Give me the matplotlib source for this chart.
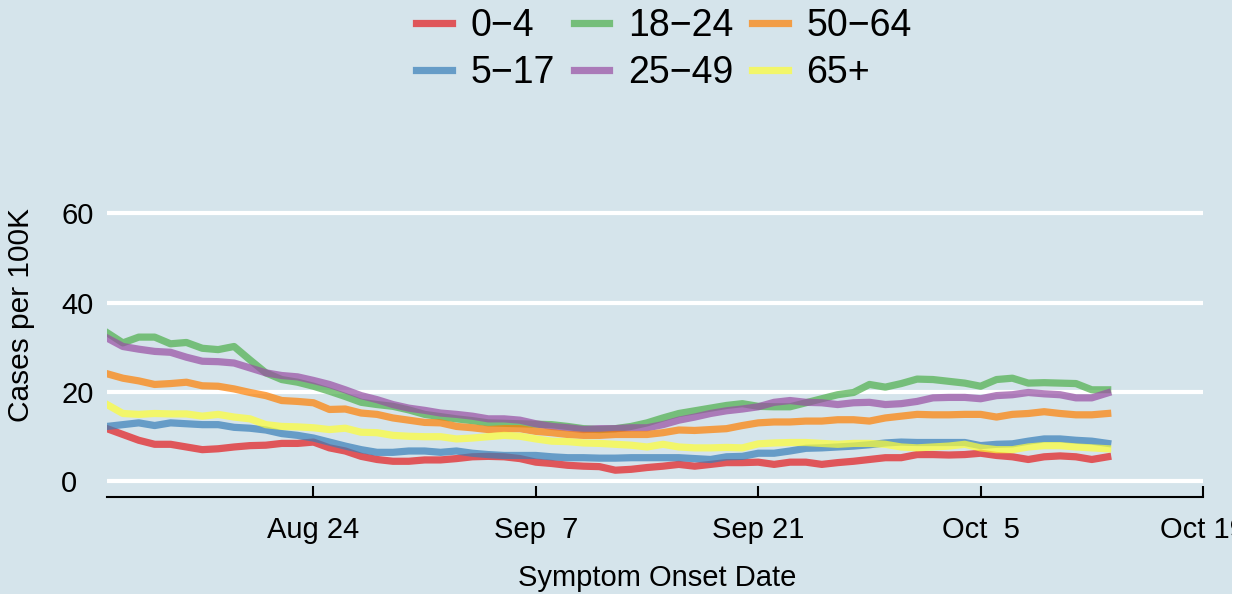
import matplotlib
matplotlib.use('Agg')
import matplotlib.pyplot as plt
from matplotlib.patches import Rectangle
import pandas as pd

# Daily cases per 100K by age group, Aug 11 - Oct 13
start_date = '2020-08-11'
age_groups = ['0\u22124', '5\u221217', '18\u221224', '25\u221249', '50\u221264', '65+']

red = [11.8, 10.5, 9.2, 8.3, 8.3, 7.7, 7.1, 7.3, 7.7, 8.0, 8.1, 8.5, 8.5, 8.8, 7.5, 6.8, 5.6, 4.9,
       4.5, 4.5, 4.8, 4.8, 5.1, 5.5, 5.6, 5.5, 5.1, 4.3, 4.0, 3.6, 3.4, 3.3, 2.5, 2.7,
       3.1, 3.4, 3.8, 3.4, 3.8, 4.2, 4.2, 4.3, 3.8, 4.3, 4.3, 3.8, 4.2, 4.5, 4.9, 5.3,
       5.3, 6.0, 6.0, 5.9, 6.0, 6.3, 5.8, 5.5, 4.9, 5.5, 5.7, 5.5, 4.9, 5.5]
blue = [12.3, 12.7, 13.1, 12.5, 13.1, 12.9, 12.7, 12.7, 12.1, 11.9, 11.5, 10.7, 10.3, 9.7, 8.8, 7.9, 7.1, 6.5,
        6.5, 6.8, 6.8, 6.5, 6.8, 6.3, 6.0, 5.8, 5.8, 5.8, 5.5, 5.3, 5.3, 5.2, 5.2, 5.3,
        5.3, 5.3, 5.3, 5.1, 4.9, 5.5, 5.6, 6.3, 6.3, 6.8, 7.4, 7.5, 7.7, 7.9, 8.2, 8.6,
        8.8, 8.7, 8.7, 8.7, 8.7, 8.0, 8.3, 8.4, 9.0, 9.5, 9.5, 9.2, 9.0, 8.5]
green = [33.3, 31.0, 32.3, 32.3, 30.8, 31.1, 29.8, 29.5, 30.2, 27.2, 24.3, 22.8, 22.2, 21.3, 20.2, 19.0, 17.7, 17.2,
         16.8, 16.0, 15.0, 14.5, 14.0, 13.6, 13.1, 13.0, 12.9, 12.8, 12.7, 12.3, 11.8, 11.6, 11.8, 12.3,
         13.1, 14.2, 15.2, 15.8, 16.4, 17.0, 17.4, 16.8, 16.7, 16.7, 17.6, 18.5, 19.4, 19.9, 21.7, 21.1,
         21.9, 22.9, 22.8, 22.4, 22.0, 21.3, 22.8, 23.1, 22.0, 22.1, 22.0, 21.9, 20.5, 20.5]
purple = [32.1, 30.2, 29.6, 29.1, 28.9, 27.8, 26.9, 26.8, 26.5, 25.4, 24.3, 23.7, 23.4, 22.6, 21.7, 20.5, 19.2, 18.3,
          17.2, 16.4, 15.9, 15.3, 15.0, 14.6, 14.0, 14.0, 13.7, 12.9, 12.3, 12.0, 11.6, 11.8, 11.8, 12.0,
          12.0, 12.7, 13.7, 14.4, 15.2, 15.8, 16.2, 16.7, 17.7, 18.1, 17.7, 17.6, 17.2, 17.6, 17.7, 17.2,
          17.4, 17.9, 18.7, 18.8, 18.8, 18.5, 19.2, 19.4, 19.9, 19.6, 19.4, 18.7, 18.7, 19.8]
orange = [24.1, 23.1, 22.5, 21.7, 21.9, 22.2, 21.4, 21.3, 20.7, 19.9, 19.2, 18.1, 17.9, 17.6, 16.1, 16.2, 15.3, 15.0,
          14.2, 13.7, 13.2, 13.1, 12.3, 12.0, 11.6, 11.8, 11.8, 11.2, 10.9, 10.5, 10.3, 10.3, 10.5, 10.5,
          10.5, 10.9, 11.5, 11.4, 11.6, 11.8, 12.5, 13.1, 13.3, 13.3, 13.5, 13.5, 13.8, 13.8, 13.5, 14.2,
          14.6, 15.0, 14.9, 14.9, 15.0, 15.0, 14.4, 15.0, 15.2, 15.6, 15.2, 14.9, 14.9, 15.2]
yellow = [17.2, 15.2, 15.0, 15.2, 15.1, 15.1, 14.6, 15.0, 14.4, 14.0, 12.7, 12.3, 12.2, 12.0, 11.6, 11.9, 11.0, 10.9,
          10.3, 10.1, 10.0, 10.0, 9.5, 9.7, 10.0, 10.3, 10.1, 9.5, 9.0, 8.9, 8.6, 8.5, 8.3, 8.1,
          7.7, 8.3, 7.7, 7.5, 7.5, 7.6, 7.5, 8.4, 8.6, 8.7, 8.7, 8.5, 8.3, 8.5, 8.5, 8.3,
          7.7, 7.5, 7.7, 7.9, 8.3, 7.5, 7.1, 7.1, 7.7, 8.0, 8.0, 7.7, 7.5, 7.3]

tick_dates = ['2020-08-24', '2020-09-07', '2020-09-21', '2020-10-05', '2020-10-19']
tick_labels = ['Aug 24', 'Sep  7', 'Sep 21', 'Oct  5', 'Oct 19']
y_ticks = [0, 20, 40, 60]

series = [red, blue, green, purple, orange, yellow]
colors = ['#E41A1C', '#377EB8', '#4DAF4A', '#984EA3', '#FF7F00', '#FFFF33']
bg = '#d5e4eb'

plt.rcParams['font.family'] = ['Liberation Sans', 'DejaVu Sans']

dates = pd.date_range(start_date, periods=len(red), freq='D')

fig = plt.figure(figsize=(12.43, 5.94), dpi=100, facecolor=bg)
ax = fig.add_axes([107 / 1243, 1 - 497 / 594, 1096 / 1243, 297 / 594])
ax.set_facecolor(bg)

for vals, col, lab in zip(series, colors, age_groups):
    ax.plot(dates, vals, color=col, alpha=0.7, lw=5.2, label=lab, solid_joinstyle='round')

ax.set_xlim(pd.Timestamp('2020-08-11'), pd.Timestamp('2020-10-19'))
ax.set_ylim(-3.5, 63)

ax.set_yticks(y_ticks)
ax.yaxis.grid(True, color='white', lw=3)
ax.set_axisbelow(True)
ax.tick_params(axis='y', length=0, pad=33, labelsize=21)
for lbl in ax.get_yticklabels():
    lbl.set_horizontalalignment('left')

ax.set_xticks(pd.to_datetime(tick_dates))
ax.set_xticklabels(tick_labels)
ax.tick_params(axis='x', direction='in', length=8, width=1.5, pad=14, labelsize=21)

for s in ['top', 'right', 'left']:
    ax.spines[s].set_visible(False)
ax.spines['bottom'].set_linewidth(1.5)

ax.set_xlabel('Symptom Onset Date', fontsize=21)
ax.xaxis.set_label_coords(0.502, -0.225)
ax.set_ylabel('Cases per 100K', fontsize=21.5)
ax.yaxis.set_label_coords(-0.066, 0.613)

fig.legend(loc='center', bbox_to_anchor=(664 / 1243, 1 - 49.5 / 594), ncol=3, frameon=False,
           fontsize=27, handlelength=0.95, handletextpad=0.5, columnspacing=0.5,
           labelspacing=0.3, borderpad=0)

# white strip at the right edge, as in the original export
fig.add_artist(Rectangle((1232 / 1243, 0), 11 / 1243, 1, transform=fig.transFigure,
                         facecolor='white', edgecolor='none', zorder=10))

fig.savefig('out.png', dpi=100, facecolor=bg)
